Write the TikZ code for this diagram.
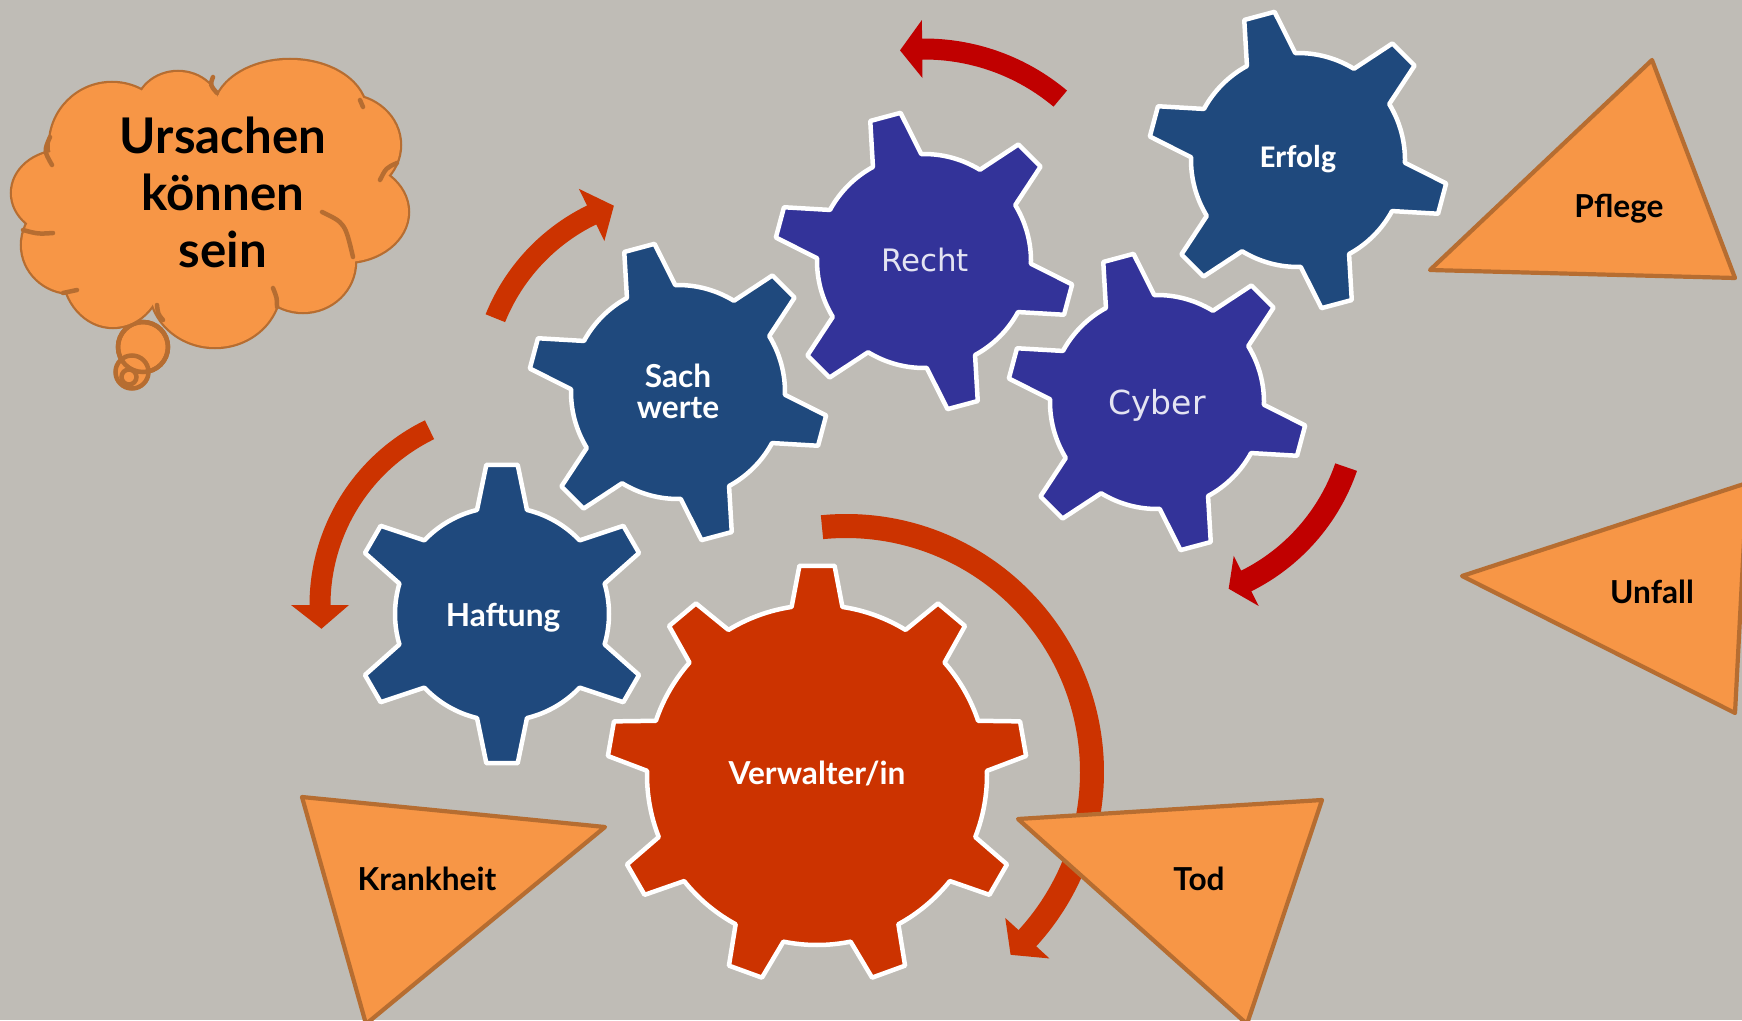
\documentclass[tikz,border=0pt]{standalone}
\usepackage{fontspec}
\setmainfont{Lato}
\newfontfamily\verdfont{DejaVu Sans}
\newfontfamily\calfont{Carlito}
\usetikzlibrary{calc}

\definecolor{bggray}{RGB}{191,188,182}
\definecolor{gearblue}{RGB}{31,73,125}
\definecolor{gearindigo}{RGB}{51,51,153}
\definecolor{gearrust}{RGB}{204,51,0}
\definecolor{arrowred}{RGB}{192,0,0}
\definecolor{arroworange}{RGB}{204,51,0}
\definecolor{causefill}{RGB}{247,150,70}
\definecolor{causeline}{RGB}{182,109,49}
\definecolor{paletext}{RGB}{228,228,242}

% gear: #1 centre, #2 teeth, #3 body radius, #4 tip radius,
% #5 angle of first tooth, #6 tip half angle, #7 base half angle, #8 style
\newcommand{\gearshape}[8]{%
  \pgfmathsetmacro\gstep{360/#2}%
  \path[#8,shift={(#1)}] ({#5-#7}:#3)
    \foreach \k in {1,...,#2}{%
      -- ({#5+(\k-1)*\gstep-#6}:#4) -- ({#5+(\k-1)*\gstep+#6}:#4)
      -- ({#5+(\k-1)*\gstep+#7}:#3)
      arc[start angle={#5+(\k-1)*\gstep+#7}, end angle={#5+\k*\gstep-#7}, radius=#3*0.1mm]
    } -- cycle;}

% curved block arrow: #1 centre, #2 radius, #3 tail angle, #4 head base angle,
% #5 tip angle, #6 half shaft width, #7 half head width, #8 colour
\newcommand{\arcarrow}[8]{%
  \pgfmathsetmacro\aro{#2+#6}\pgfmathsetmacro\ari{#2-#6}%
  \pgfmathsetmacro\aho{#2+#7}\pgfmathsetmacro\ahi{#2-#7}%
  \fill[#8,shift={(#1)}] (#3:\aro) arc[start angle=#3, end angle=#4, radius=\aro*0.1mm]
    -- (#4:\aho) -- (#5:#2) -- (#4:\ahi) -- (#4:\ari)
    arc[start angle=#4, end angle=#3, radius=\ari*0.1mm] -- cycle;}

\begin{document}
\begin{tikzpicture}[x=0.1mm,y=0.1mm,
  gearbody/.style={fill=#1, draw=white, line width=0.45mm, line join=round},
  cause/.style={fill=causefill, draw=causeline, line width=0.42mm, line join=round},
  gearlabel/.style={anchor=base, text=white, inner sep=0pt, align=center,
    font=\bfseries\fontsize{9}{8.6}\selectfont},
  softlabel/.style={anchor=base, text=paletext, inner sep=0pt,
    font=\verdfont\fontsize{#1}{#1}\selectfont},
  causelabel/.style={anchor=base, text=black, inner sep=0pt,
    font=\bfseries\fontsize{9}{10}\selectfont},
  puffline/.style={draw=causeline, line width=0.45mm},
  puffinner/.style={draw=causeline, line width=0.45mm, line cap=round}]

\useasboundingbox (0,0) rectangle (1742,1020);
\clip (0,0) rectangle (1742,1020);
\fill[bggray] (0,0) rectangle (1742,1020);

% gear centres
\coordinate (haftung-c)   at (502,406);
\coordinate (sachwerte-c) at (678,628);
\coordinate (recht-c)     at (924,759);
\coordinate (cyber-c)     at (1157,618);
\coordinate (erfolg-c)    at (1298,860);
\coordinate (verwalter-c) at (817,245);
\coordinate (haftung-arc)   at (515,415);
\coordinate (verwalter-arc) at (846,248);

% turning arrows
\arcarrow{recht-c}{212}{50}{90.5}{96.5}{10.5}{29}{arrowred}
\arcarrow{sachwerte-c}{197}{158}{116}{109}{10.5}{29}{arroworange}
\arcarrow{haftung-arc}{195}{116}{180}{187}{10.5}{29}{arroworange}
\arcarrow{cyber-c}{200}{-19}{-63.5}{-69}{11.5}{28}{arrowred}
\arcarrow{verwalter-arc}{246}{95.6}{-42.5}{-48}{12}{30}{arroworange}

% gears
\gearshape{haftung-c}{6}{107}{150}{90}{6}{13.5}{gearbody=gearblue}
\gearshape{sachwerte-c}{6}{107}{150}{45}{6}{13.5}{gearbody=gearblue}
\gearshape{recht-c}{6}{107}{150}{45}{6}{13.5}{gearbody=gearindigo}
\gearshape{cyber-c}{6}{107}{150}{45}{6}{13.5}{gearbody=gearindigo}
\gearshape{erfolg-c}{6}{107}{150}{45}{6}{13.5}{gearbody=gearblue}
\gearshape{verwalter-c}{9}{170}{210}{90}{4.8}{8.6}{gearbody=gearrust}

% causes
\draw[cause] (1652,960) -- (1430,750) -- (1735,742) -- cycle;
\draw[cause] (1462,444) -- (1747,537) -- (1735,307) -- cycle;
\draw[cause] (302,223) -- (605,193) -- (366,-4) -- cycle;
\draw[cause] (1018,201) -- (1322,220) -- (1247,-4) -- cycle;

% thought cloud: tail bubbles
\draw[puffline, fill=causefill] (143,673) circle[radius=25];
\draw[puffline, fill=causefill] (132,648) circle[radius=16.5];
\draw[puffline] (143,673) circle[radius=25];
\draw[puffline, fill=causefill] (129,643) circle[radius=7.5];

% thought cloud: puffs, outlined first and then filled to merge
\foreach \cx/\cy/\rx/\ry in {112/875/62/62, 178/910/42/38, 290/908/76/52,
    345/875/55/50, 345/808/63/50, 303/758/52/50, 215/733/65/60,
    113/750/50/57, 72/775/50/48, 62/827/50/42}
  \draw[puffline] (\cx,\cy) ellipse[x radius=\rx, y radius=\ry];
\foreach \cx/\cy/\rx/\ry in {112/875/62/62, 178/910/42/38, 290/908/76/52,
    345/875/55/50, 345/808/63/50, 303/758/52/50, 215/733/65/60,
    113/750/50/57, 72/775/50/48, 62/827/50/42, 210/820/150/100}
  \fill[causefill] (\cx,\cy) ellipse[x radius=\rx, y radius=\ry];
% inner strokes of the puffs
\draw[puffinner] (50,883) .. controls (44,869) .. (52,855);
\draw[puffinner] (213,943) .. controls (210,935) .. (217,927);
\draw[puffinner] (360,920) .. controls (361,916) .. (363,913);
\draw[puffinner] (380,840) .. controls (386,852) .. (397,857);
\draw[puffinner] (322,808) .. controls (345,797) .. (353,763);
\draw[puffinner] (273,732) .. controls (277,722) .. (277,713);
\draw[puffinner] (157,715) .. controls (158,706) .. (163,700);
\draw[puffinner] (53,787) .. controls (38,786) .. (23,790);
\draw[puffinner] (77,730) .. controls (70,728) .. (63,727);

% texts (multi-line nodes are anchored at their last baseline)
\node[anchor=base, inner sep=0pt, align=center,
  font=\bfseries\fontsize{14}{16.2}\selectfont] (ursachen) at (223,753)
  {Ursachen\\können\\sein};
\node[gearlabel] (haftung) at (503,394) {Haftung};
\node[gearlabel] (sachwerte) at (678,602) {Sach\\werte};
\node[softlabel=8.8] (recht) at (925,748) {Recht};
\node[softlabel=9.4] (cyber) at (1157,606) {Cyber};
\node[anchor=base, text=white, inner sep=0pt,
  font=\calfont\bfseries\fontsize{9}{9}\selectfont] (erfolg) at (1298,852) {Erfolg};
\node[gearlabel] (verwalter) at (817,236) {Verwalter/in};
\node[causelabel] (pflege) at (1619,803) {Pflege};
\node[causelabel] (unfall) at (1652,417) {Unfall};
\node[causelabel] (krankheit) at (427,130) {Krankheit};
\node[causelabel] (tod) at (1199,130) {Tod};
\end{tikzpicture}
\end{document}
